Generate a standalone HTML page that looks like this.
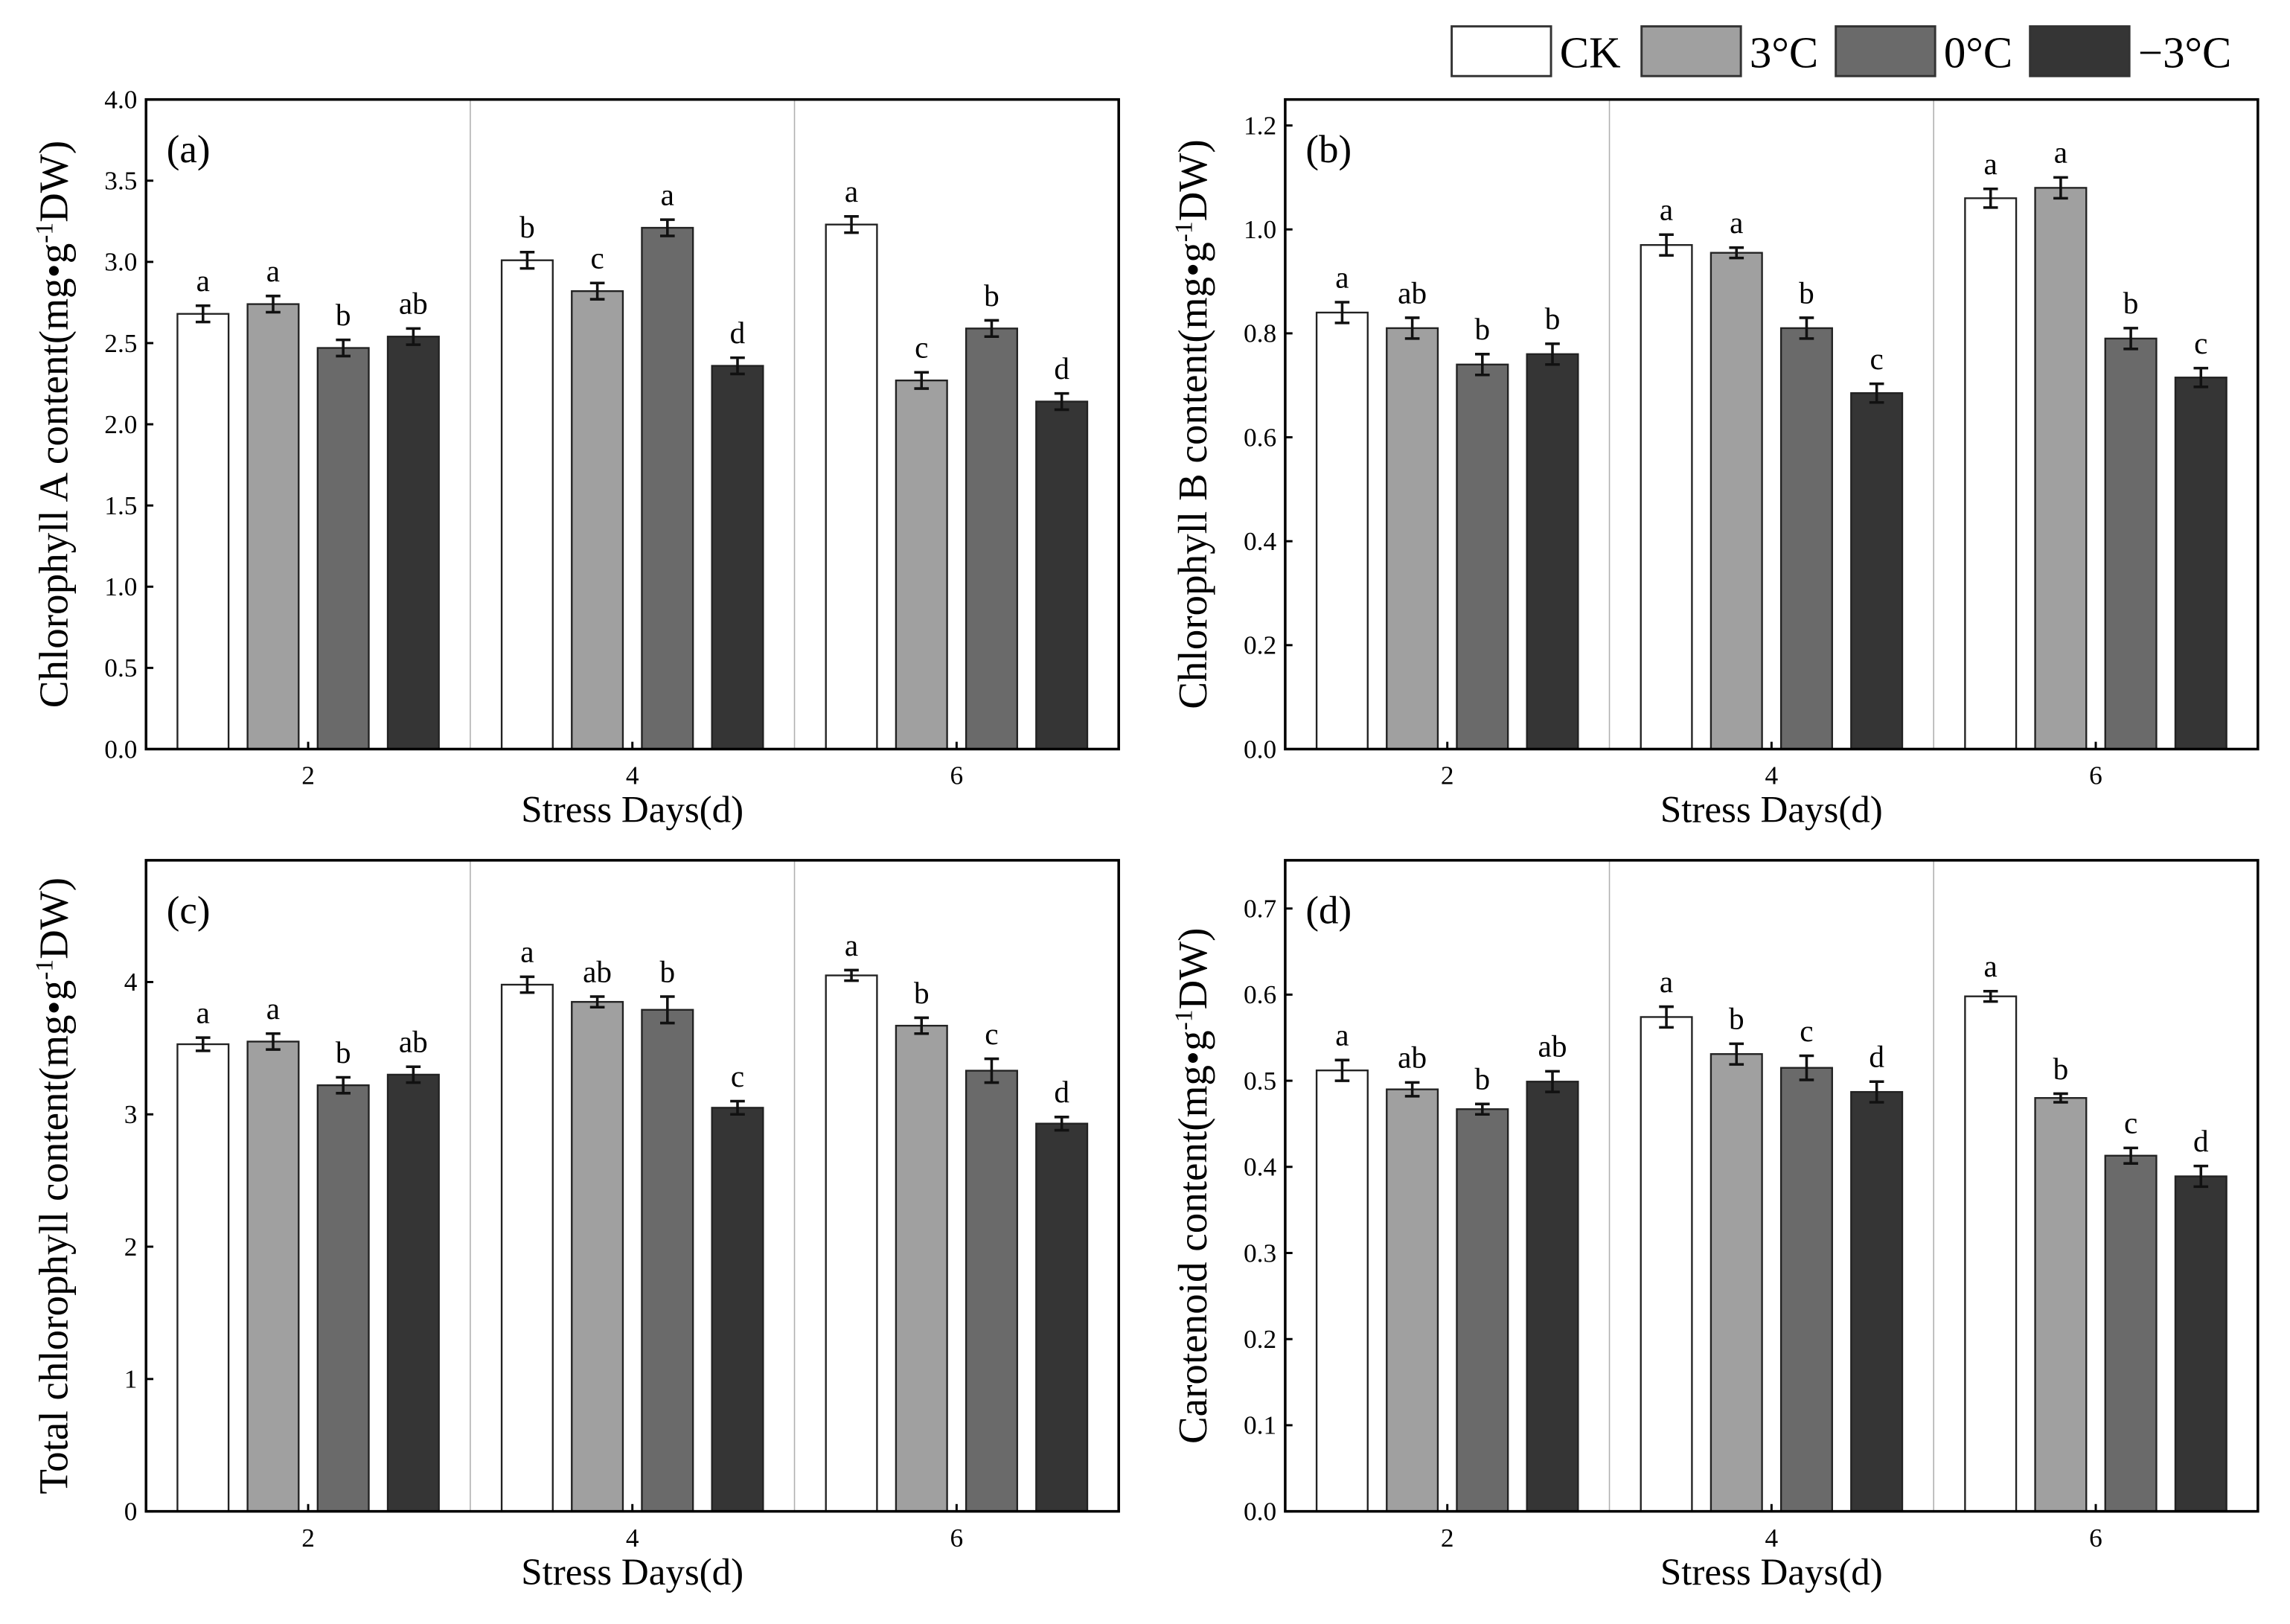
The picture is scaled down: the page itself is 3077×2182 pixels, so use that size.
<!DOCTYPE html>
<html><head><meta charset="utf-8"><style>
html,body{margin:0;padding:0;background:#fff;}
svg{display:block;font-family:"Liberation Serif",serif;}
</style></head><body>
<svg id="fig" width="3077" height="2182" viewBox="0 0 1568 1110" preserveAspectRatio="none" xmlns="http://www.w3.org/2000/svg">
<g id="legend"></g>
</svg>
<script>
const days = ["2","4","6"];
const seriesNames = ["CK","3°C","0°C","−3°C"];
const colors = ["#ffffff","#a0a0a0","#6a6a6a","#353535"];
// Panel (a) values by day, each [CK,3,0,-3]
const aVals = [[2.68,2.74,2.47,2.54],[3.01,2.82,3.21,2.36],[3.23,2.27,2.59,2.14]];
const aErr = [[0.05,0.05,0.05,0.05],[0.05,0.05,0.05,0.05],[0.05,0.05,0.05,0.05]];
const aLet = [["a","a","b","ab"],["b","c","a","d"],["a","c","b","d"]];
const aTicks = ["0.0","0.5","1.0","1.5","2.0","2.5","3.0","3.5","4.0"];
const bVals = [[0.84,0.81,0.74,0.76],[0.97,0.955,0.81,0.685],[1.06,1.08,0.79,0.715]];
const bErr = [[0.02,0.02,0.02,0.02],[0.02,0.01,0.02,0.018],[0.018,0.02,0.02,0.018]];
const bLet = [["a","ab","b","b"],["a","a","b","c"],["a","a","b","c"]];
const bTicks = ["0.0","0.2","0.4","0.6","0.8","1.0","1.2"];
const cVals = [[3.53,3.55,3.22,3.30],[3.98,3.85,3.79,3.05],[4.05,3.67,3.33,2.93]];
const cErr = [[0.05,0.06,0.06,0.06],[0.06,0.04,0.1,0.05],[0.04,0.06,0.09,0.05]];
const cLet = [["a","a","b","ab"],["a","ab","b","c"],["a","b","c","d"]];
const cTicks = ["0","1","2","3","4"];
const dVals = [[0.512,0.49,0.467,0.499],[0.574,0.531,0.515,0.487],[0.598,0.48,0.413,0.389]];
const dErr = [[0.012,0.008,0.006,0.012],[0.012,0.012,0.014,0.012],[0.006,0.005,0.009,0.012]];
const dLet = [["a","ab","b","ab"],["a","b","c","d"],["a","b","c","d"]];
const dTicks = ["0.0","0.1","0.2","0.3","0.4","0.5","0.6","0.7"];

const NS="http://www.w3.org/2000/svg";
const svg=document.getElementById('fig');
function el(tag,attrs,parent,text){const e=document.createElementNS(NS,tag);for(const k in attrs)e.setAttribute(k,attrs[k]);if(text!==undefined)e.textContent=text;(parent||svg).appendChild(e);return e;}

function panel(id,L,T,R,B,ymax,ticks,vals,errs,lets,label,ytitleMain){
  const g=el('g',{});
  
  
  const y=v=>B-(v/ymax)*(B-T);
  const gw=(R-L)/3;
  const xc=i=>L+gw*(i+0.5);
  for(let i=1;i<3;i++){const d=el('line',{x1:L+gw*i,x2:L+gw*i,y1:T,y2:B,stroke:'#b0b0b0','stroke-width':0.8},g);
    
    }
  const offs=[-72,-24,24,72], bw=35;
  vals.forEach((grp,i)=>grp.forEach((v,s)=>{
    const cx=xc(i)+offs[s];
    const r=el('rect',{x:cx-bw/2,y:y(v),width:bw,height:B-y(v),fill:colors[s],stroke:'#222','stroke-width':1.2},g);
    
    
    const e=errs[i][s];
    const eb=el('path',{d:`M${cx},${y(v+e)}V${y(v-e)}M${cx-5},${y(v+e)}H${cx+5}M${cx-5},${y(v-e)}H${cx+5}`,stroke:'#111','stroke-width':1.8,fill:'none'},g);
    
    
    const t=el('text',{x:cx,y:y(v+e)-10,'text-anchor':'middle','font-size':21},g,lets[i][s]);
    
    
  }));
  const f=el('rect',{x:L,y:T,width:R-L,height:B-T,fill:'none',stroke:'#000','stroke-width':1.8},g);
  
  
  ticks.forEach(tk=>{const v=parseFloat(tk);const yy=y(v);
    el('line',{x1:L,x2:L+5,y1:yy,y2:yy,stroke:'#000','stroke-width':1.5},g);
    const t=el('text',{x:L-6,y:yy+6,'text-anchor':'end','font-size':18},g,tk);
    
    });
  days.forEach((d,i)=>{el('line',{x1:xc(i),x2:xc(i),y1:B,y2:B-5,stroke:'#000','stroke-width':1.5},g);
    const t=el('text',{x:xc(i),y:B+24,'text-anchor':'middle','font-size':18},g,d);
    
    });
  const xt=el('text',{x:(L+R)/2,y:B+50,'text-anchor':'middle','font-size':26},g,'Stress Days(d)');
  
  
  const pl=el('text',{x:L+14,y:T+43,'font-size':27},g,label);
  
  
  const yt=el('text',{transform:`translate(${L-54},${(T+B)/2}) rotate(-90)`,'text-anchor':'middle','font-size':28},g);
  
  
  el('tspan',{},yt,ytitleMain+'(mg•g');
  el('tspan',{dy:-10,'font-size':17},yt,'-1');
  el('tspan',{dy:10},yt,'DW)');
}
panel('a',100,68,766,512,4.0,aTicks,aVals,aErr,aLet,'(a)','Chlorophyll A content');
panel('b',880,68,1546,512,1.25,bTicks,bVals,bErr,bLet,'(b)','Chlorophyll B content');
panel('c',100,588,766,1033,4.92,cTicks,cVals,cErr,cLet,'(c)','Total chlorophyll content');
panel('d',880,588,1546,1033,0.756,dTicks,dVals,dErr,dLet,'(d)','Carotenoid content');

const lg=document.getElementById('legend');
const lx=[994,1124,1257,1390];
seriesNames.forEach((n,s)=>{
  const r=el('rect',{x:lx[s],y:18,width:68,height:34,fill:colors[s],stroke:'#333','stroke-width':1.5},lg);
  
  
  const t=el('text',{x:lx[s]+74,y:46,'font-size':30},lg,n);
  
  
});
</script>
</body></html>
